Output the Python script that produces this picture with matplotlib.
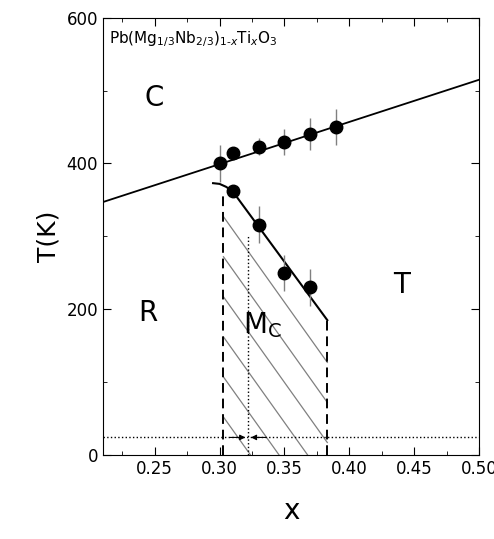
import numpy as np
import matplotlib.pyplot as plt
from matplotlib.ticker import MultipleLocator

# cubic -> tetragonal/rhombohedral transition
x_c = [0.30, 0.31, 0.33, 0.35, 0.37, 0.39]
T_c = [400, 415, 423, 430, 440, 450]
err_c = [25, 8, 12, 18, 22, 25]
# lower transition
x_low = [0.31, 0.33, 0.35, 0.37]
T_low = [362, 316, 250, 230]
err_low = [8, 25, 25, 25]

line_c_x = [0.21, 0.50]
line_c_T = [347, 515]
curve_x = [0.295, 0.300, 0.305, 0.310, 0.383]
curve_T = [373, 372, 368, 362, 185]
x_left, x_right, x_mid = 0.303, 0.383, 0.322
T_lowtemp = 24

fig = plt.figure(figsize=(4.94, 5.39), dpi=100)
ax = fig.add_axes([0.208, 0.156, 0.762, 0.811])

ax.plot(line_c_x, line_c_T, 'k-', lw=1.3)
ax.errorbar(x_c, T_c, yerr=err_c, fmt='o', color='k', ms=9, ecolor='gray', elinewidth=1)
ax.plot(curve_x, curve_T, 'k-', lw=1.5)
ax.errorbar(x_low, T_low, yerr=err_low, fmt='o', color='k', ms=9, ecolor='gray', elinewidth=1)

# Mc region hatching, clipped to the region by hand
xs = np.linspace(x_left, x_right, 400)
top = np.interp(xs, curve_x, curve_T) - 4
for c in np.arange(327, -250, -55):
    Ts = c - 2500 * (xs - x_left)
    Ts = np.where((Ts < top) & (Ts > 0), Ts, np.nan)
    ax.plot(xs, Ts, color='gray', lw=0.9)

ax.plot([x_left, x_left], [0, 362], 'k--', lw=1.4, dashes=(5, 3))
ax.plot([x_right, x_right], [0, 185], 'k--', lw=1.4, dashes=(5, 3))
ax.plot([x_mid, x_mid], [0, 300], 'k:', lw=1)
ax.plot([0.21, 0.50], [T_lowtemp, T_lowtemp], 'k:', lw=1)
ax.annotate('', xy=(x_mid, T_lowtemp), xytext=(0.306, T_lowtemp),
            arrowprops=dict(arrowstyle='-|>', color='k', lw=0.8, mutation_scale=8))
ax.annotate('', xy=(x_mid, T_lowtemp), xytext=(0.338, T_lowtemp),
            arrowprops=dict(arrowstyle='-|>', color='k', lw=0.8, mutation_scale=8))

ax.text(0.215, 585, r'Pb(Mg$_{1/3}$Nb$_{2/3}$)$_{1\text{-}x}$Ti$_x$O$_3$', fontsize=11, va='top')
ax.text(0.25, 490, 'C', fontsize=20, ha='center', va='center')
ax.text(0.245, 195, 'R', fontsize=20, ha='center', va='center')
ax.text(0.44, 233, 'T', fontsize=20, ha='center', va='center')
ax.text(0.333, 178, r'M$_\mathrm{C}$', fontsize=20, ha='center', va='center')

ax.set_xlim(0.21, 0.50)
ax.set_ylim(0, 600)
ax.xaxis.set_minor_locator(MultipleLocator(0.025))
ax.yaxis.set_major_locator(MultipleLocator(200))
ax.yaxis.set_minor_locator(MultipleLocator(100))
ax.tick_params(which='both', direction='in', top=True, right=True, labelsize=12)
ax.tick_params(which='major', length=6)
ax.tick_params(which='minor', length=3)
ax.set_xticks([0.25, 0.30, 0.35, 0.40, 0.45, 0.50])
ax.set_xticklabels(['0.25', '0.30', '0.35', '0.40', '0.45', '0.50'])
ax.set_xlabel('x', fontsize=20, labelpad=14)
ax.set_ylabel('T(K)', fontsize=18)

fig.savefig('out.png', dpi=100)
